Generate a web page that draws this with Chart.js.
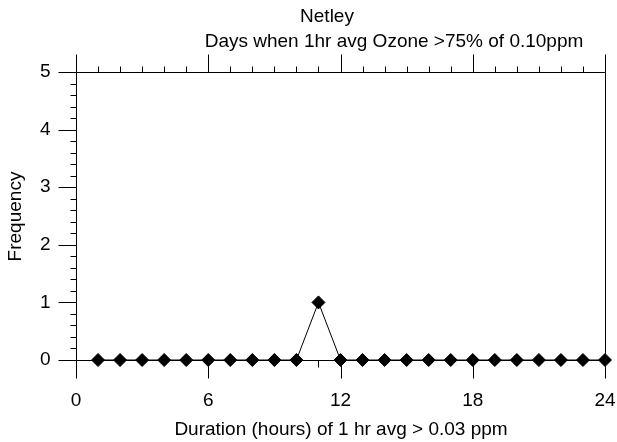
<!DOCTYPE html>
<html>
<head>
<meta charset="utf-8">
<script src="https://cdn.jsdelivr.net/npm/chart.js@4"></script>
<style>
  html, body { margin: 0; padding: 0; background: #fff; }
  #wrap { width: 617px; height: 442px; }
</style>
</head>
<body>
<div id="wrap"><canvas id="chart-1"></canvas></div>
<script>
// data
const hours = [1, 2, 3, 4, 5, 6, 7, 8, 9, 10, 11, 12, 13, 14, 15, 16, 17, 18, 19, 20, 21, 22, 23, 24];
const frequency = [0, 0, 0, 0, 0, 0, 0, 0, 0, 0, 1, 0, 0, 0, 0, 0, 0, 0, 0, 0, 0, 0, 0, 0];
const xTickLabels = [0, 6, 12, 18, 24];
const yTickLabels = [0, 1, 2, 3, 4, 5];

const titleText = 'Netley';
const subtitleText = 'Days when 1hr avg Ozone >75% of 0.10ppm';
const xTitle = 'Duration (hours) of 1 hr avg > 0.03 ppm';
const yTitle = 'Frequency';

const FONT = '19px "Liberation Sans", Arial, sans-serif';

// hour with the most days, marked by a short tick under the axis
const peakHour = hours[frequency.indexOf(Math.max(...frequency))];

// axes, ticks and texts drawn by hand from the chart scales
const framePlugin = {
  id: 'frame',
  beforeDatasetsDraw(chart) {
    const {ctx, scales: {x, y}} = chart;
    const px = v => Math.round(x.getPixelForValue(v)) + 0.5;
    const py = v => Math.round(y.getPixelForValue(v)) + 0.5;
    const L = px(0), R = px(24), T = py(5), B = py(0);
    ctx.save();
    ctx.strokeStyle = '#000';
    ctx.lineWidth = 1;
    ctx.beginPath();
    // frame
    ctx.moveTo(L, T); ctx.lineTo(R, T);
    ctx.moveTo(L, T); ctx.lineTo(L, B);
    ctx.moveTo(R, T); ctx.lineTo(R, B);
    ctx.moveTo(L, B); ctx.lineTo(R, B);
    // top ticks
    for (let h = 0; h <= 24; h++) {
      const len = h % 6 === 0 ? 18 : 6;
      ctx.moveTo(px(h), T); ctx.lineTo(px(h), T - len);
    }
    // bottom ticks
    xTickLabels.forEach(h => { ctx.moveTo(px(h), B); ctx.lineTo(px(h), B + 18); });
    ctx.moveTo(px(peakHour), B); ctx.lineTo(px(peakHour), B + 7);
    // left ticks
    for (let i = 0; i <= 25; i++) {
      const v = i / 5;
      const len = i % 5 === 0 ? 18 : 6;
      ctx.moveTo(L, py(v)); ctx.lineTo(L - len, py(v));
    }
    ctx.stroke();

    ctx.fillStyle = '#000';
    ctx.font = FONT;
    ctx.textBaseline = 'middle';
    ctx.textAlign = 'right';
    yTickLabels.forEach(v => ctx.fillText(String(v), L - 26, y.getPixelForValue(v)));
    ctx.textAlign = 'center';
    xTickLabels.forEach(h => ctx.fillText(String(h), x.getPixelForValue(h), B + 40));
    ctx.fillText(xTitle, (L + R) / 2, B + 69);
    ctx.fillText(titleText, 327, 17);
    ctx.fillText(subtitleText, 394, 42);
    ctx.translate(16, (T + B) / 2);
    ctx.rotate(-Math.PI / 2);
    ctx.fillText(yTitle, 0, 0);
    ctx.restore();
  }
};

const ctx = document.getElementById('chart-1').getContext('2d');
const chart_1 = new Chart(ctx, {
  type: 'line',
  data: {
    datasets: [{
      data: hours.map((h, i) => ({x: h, y: frequency[i]})),
      borderColor: '#000',
      borderWidth: 1,
      backgroundColor: '#000',
      pointStyle: 'rectRot',
      pointRadius: 6.5,
      pointBorderWidth: 1,
      pointBackgroundColor: '#000',
      pointBorderColor: '#000',
      clip: false,
      tension: 0
    }]
  },
  options: {
    responsive: true,
    maintainAspectRatio: false,
    animation: false,
    events: [],
    layout: {padding: {left: 76, right: 12, top: 72, bottom: 82}},
    plugins: {legend: {display: false}, tooltip: {enabled: false}},
    scales: {
      x: {type: 'linear', min: 0, max: 24, display: false},
      y: {min: 0, max: 5, display: false}
    }
  },
  plugins: [framePlugin]
});
</script>
</body>
</html>
